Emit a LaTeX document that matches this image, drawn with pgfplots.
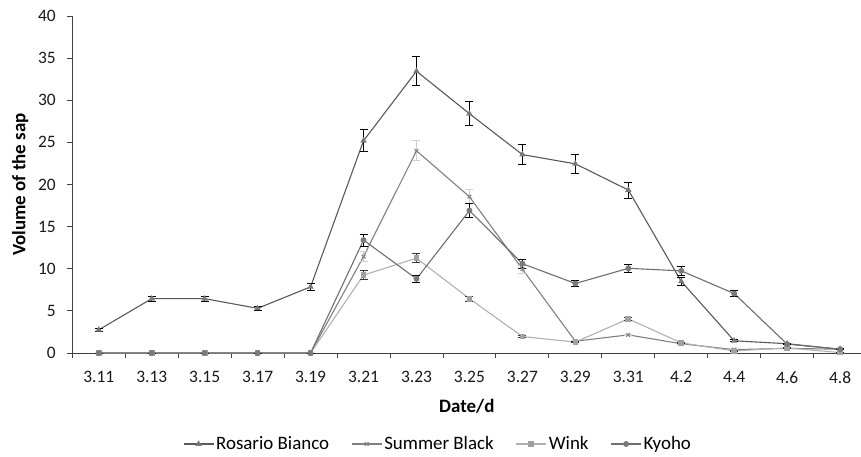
\documentclass[border=0pt]{standalone}
\usepackage{fontspec}
\setmainfont{Carlito}
\usepackage{pgfplots}
\usepackage{pgfplotstable}
\pgfplotsset{compat=1.18}
\definecolor{cRB}{HTML}{595959}
\definecolor{cRBm}{HTML}{7A7A7A}
\definecolor{cSB}{HTML}{808080}
\definecolor{cW}{HTML}{B0B0B0}
\definecolor{cWm}{HTML}{A0A0A0}
\definecolor{cK}{HTML}{6E6E6E}
\definecolor{cSBe}{HTML}{CFCFCF}

\pgfplotstableread{
x y e
0 2.75 0.15
1 6.45 0.3
2 6.45 0.3
3 5.3 0.25
4 7.85 0.4
5 25.2 1.3
6 33.45 1.7
7 28.4 1.45
8 23.55 1.2
9 22.45 1.15
10 19.35 0.95
11 8.5 0.45
12 1.45 0.1
13 1.1 0.06
14 0.45 0.05
}\rosario

\pgfplotstableread{
x y e
0 0 0
1 0 0
2 0 0
3 0 0
4 0 0
5 11.45 0.6
6 24.0 1.2
7 18.55 0.85
8 9.95 0.5
9 1.4 0.08
10 2.15 0.1
11 1.1 0.06
12 0.4 0.03
13 0.55 0.03
14 0.45 0.03
}\summer

\pgfplotstableread{
x y e
0 0 0
1 0 0
2 0 0
3 0 0
4 0 0
5 9.25 0.5
6 11.25 0.55
7 6.45 0.3
8 1.95 0.1
9 1.3 0.07
10 4.05 0.2
11 1.2 0.06
12 0.25 0.02
13 0.6 0.03
14 0.05 0.01
}\wink

\pgfplotstableread{
x y e
0 0 0
1 0 0
2 0 0
3 0 0
4 0 0
5 13.4 0.7
6 8.8 0.45
7 16.9 0.85
8 10.6 0.55
9 8.25 0.4
10 10.05 0.5
11 9.75 0.5
12 7.05 0.35
13 1.05 0.05
14 0.45 0.03
}\kyoho

\begin{document}
\begin{tikzpicture}
\begin{axis}[
  width=789bp, height=337bp, scale only axis,
  xmin=-0.5, xmax=14.4, ymin=0, ymax=40,
  axis x line*=bottom, axis y line*=left,
  axis line style={black!75, line width=0.9bp},
  ytick={0,5,...,40},
  xtick={0,...,14},
  xticklabels={3.11,3.13,3.15,3.17,3.19,3.21,3.23,3.25,3.27,3.29,3.31,4.2,4.4,4.6,4.8},
  minor xtick={-0.5,0.5,...,13.5},
  tick align=outside,
  major tick length=5bp, minor tick length=5bp,
  major x tick style={draw=none},
  tick style={black!75, line width=0.9bp},
  ticklabel style={font=\fontsize{17.5}{20}\selectfont, text=black!90},
  yticklabel style={xshift=-8bp},
  xticklabel style={yshift=-10bp},
  /pgf/number format/assume math mode=true,
  xlabel={Date/d}, ylabel={Volume of the sap},
  label style={font=\bfseries\fontsize{19}{22}\selectfont},
  xlabel style={at={(axis description cs:0.5,-0.157)}, anchor=center},
  ylabel style={at={(axis description cs:-0.066,0.5)}, anchor=center},
  legend columns=4,
  legend style={at={(axis description cs:0.4635,-0.27)}, anchor=center, draw=none, fill=none,
    font=\fontsize{19}{22}\selectfont, /tikz/every even column/.append style={column sep=20bp}},
  legend image code/.code={\draw[#1, mark repeat=2, mark phase=2] plot coordinates {(0bp,0bp) (15bp,0bp) (30bp,0bp)};},
  error bars/y dir=both, error bars/y explicit,
  every axis plot/.append style={line width=1.1bp},
]
\addplot[color=cRB, mark=triangle*, mark size=2.6bp, mark options={fill=cRBm, draw=cRBm},
  error bars/error bar style={black, line width=0.9bp},
  error bars/error mark options={rotate=90, black, line width=0.9bp, mark size=4bp}]
  table[x=x, y=y, y error=e] {\rosario};
\addlegendentry{Rosario Bianco}
\addplot[color=cSB, mark=x, mark size=2.6bp, mark options={draw=cSB},
  error bars/error bar style={cSBe, line width=0.9bp},
  error bars/error mark options={rotate=90, cSBe, line width=0.9bp, mark size=4bp}]
  table[x=x, y=y, y error=e] {\summer};
\addlegendentry{Summer Black}
\addplot[color=cW, mark=square*, mark size=2.3bp, mark options={fill=cWm, draw=cWm},
  error bars/error bar style={black!80, line width=0.9bp},
  error bars/error mark options={rotate=90, black!80, line width=0.9bp, mark size=4bp}]
  table[x=x, y=y, y error=e] {\wink};
\addlegendentry{Wink}
\addplot[color=cK, mark=*, mark size=2.4bp, mark options={fill=cRBm, draw=cRBm},
  error bars/error bar style={black, line width=0.9bp},
  error bars/error mark options={rotate=90, black, line width=0.9bp, mark size=4bp}]
  table[x=x, y=y, y error=e] {\kyoho};
\addlegendentry{Kyoho}
\end{axis}
\pgfresetboundingbox
\path[use as bounding box] (-72.3bp,-104bp) rectangle (788.7bp,353bp);
\end{tikzpicture}
\end{document}
